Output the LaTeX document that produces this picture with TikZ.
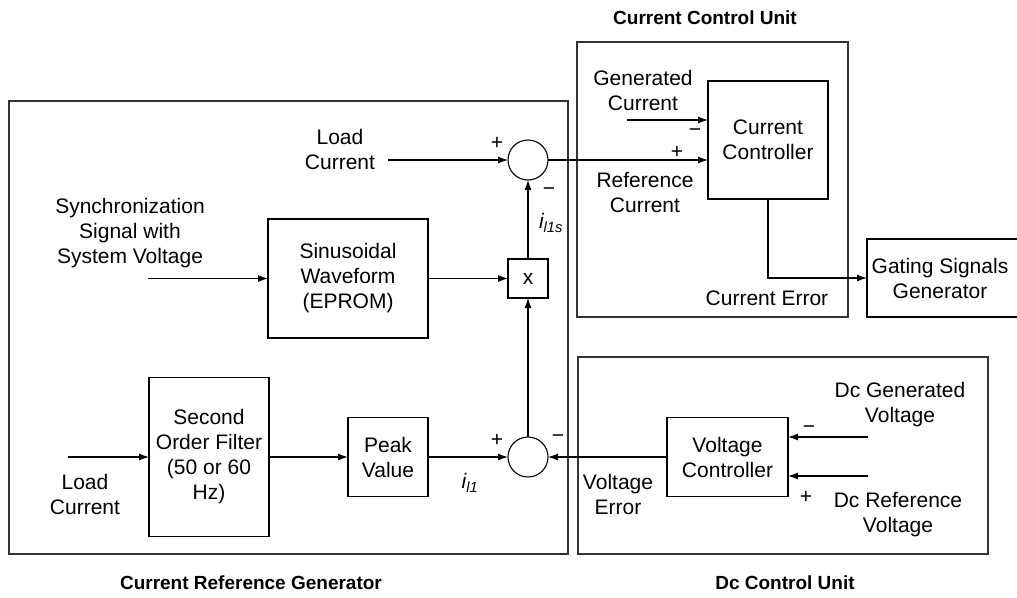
\documentclass[tikz,border=0pt]{standalone}
\usepackage{fontspec}
\setmainfont{Liberation Sans}
\usetikzlibrary{arrows.meta}
\begin{document}
\begin{tikzpicture}[x=1pt,y=-1pt,
  every node/.style={font=\fontsize{21}{25}\selectfont, inner sep=0pt, outer sep=0pt},
  frame/.style={draw=black!80, line width=1.3pt},
  blk/.style={draw, line width=1.1pt, align=center},
  sumc/.style={draw, circle, line width=1.1pt, minimum size=40pt},
  lbl/.style={align=center},
  ttl/.style={font=\bfseries\fontsize{19}{23}\selectfont},
  arr/.style={line width=1.1pt, -{Latex[length=10pt,width=7pt]}},
  ln/.style={line width=1.1pt}]
\useasboundingbox (0,0) rectangle (1017,597);
% frames
\draw[frame] (9,101) rectangle (568,554);
\draw[frame] (577,42) rectangle (848,317);
\draw[frame] (578,357) rectangle (988,554);
% titles
\node[ttl] (t1) at (705,18) {Current Control Unit};
\node[ttl] (t2) at (251,583) {Current Reference Generator};
\node[ttl] (t3) at (785,583) {Dc Control Unit};
% blocks
\node[blk, minimum width=120pt, minimum height=118pt] (cc) at (768,140) {Current\\Controller};
\node[draw, line width=1.1pt, minimum width=160pt, minimum height=78pt] (gsg) at (947,278) {};
\node[lbl] (gsgt) at (940,278) {Gating Signals\\Generator};
\node[blk, minimum width=160pt, minimum height=119pt] (sin) at (348,278.5) {Sinusoidal\\Waveform\\(EPROM)};
\node[blk, minimum width=40pt, minimum height=39pt] (mul) at (528,278.5) {x};
\node[sumc] (s1) at (528,160) {};
\node[sumc] (s2) at (528,457) {};
\node[blk, minimum width=120pt, minimum height=159pt] (flt) at (209,457) {Second\\Order Filter\\(50 or 60\\Hz)};
\node[blk, minimum width=80pt, minimum height=79pt] (pk) at (388,457) {Peak\\Value};
\node[blk, minimum width=121pt, minimum height=79pt] (vc) at (727.5,457) {Voltage\\Controller};
% free ends
\coordinate (lc1) at (388,160);
\coordinate (gc) at (627,120);
\coordinate (sy) at (148,278.5);
\coordinate (lc2) at (68,457);
\coordinate (dg) at (868,437);
\coordinate (dr) at (868,476);
% connectors
\draw[arr] (lc1) -- (s1.west);
\draw[arr] (s1.east) -- (s1.east -| cc.west);
\draw[arr] (gc) -- (gc -| cc.west);
\draw[arr] (cc.south) |- (gsg.west);
\draw[arr] (sy) -- (sin.west);
\draw[arr] (sin.east) -- (mul.west);
\draw[arr] (mul.north) -- (s1.south);
\draw[arr] (s2.north) -- (mul.south);
\draw[arr] (lc2) -- (flt.west);
\draw[arr] (flt.east) -- (pk.west);
\draw[arr] (pk.east) -- (s2.west);
\draw[arr] (vc.west) -- (s2.east);
\draw[arr] (dg) -- (dg -| vc.east);
\draw[arr] (dr) -- (dr -| vc.east);
% labels
\node[lbl] (l1) at (340,149.5) {Load\\Current};
\node (p1) at (497,143) {+};
\node (m1) at (549,192) {−};
\node (i1s) at (551,223) {\textit{i\textsubscript{l1s}}};
\node[lbl] (l2) at (643,90) {Generated\\Current};
\node[lbl] (l3) at (645,193) {Reference\\Current};
\node (p2) at (677,152) {+};
\node (m2) at (695,133) {−};
\node (ce) at (767,298) {Current Error};
\node[lbl] (l4) at (130,233) {Synchronization\\Signal with\\System Voltage};
\node[lbl] (l5) at (85,494) {Load\\Current};
\node (p3) at (497,440) {+};
\node (m3) at (558,439) {−};
\node (i1) at (470,483) {\textit{i\textsubscript{l1}}};
\node[lbl] (l6) at (618,494) {Voltage\\Error};
\node (m4) at (809,430) {−};
\node (p4) at (806,497) {+};
\node[lbl] (l7) at (900,405) {Dc Generated\\Voltage};
\node[lbl] (l8) at (898,515) {Dc Reference\\Voltage};
\end{tikzpicture}
\end{document}
